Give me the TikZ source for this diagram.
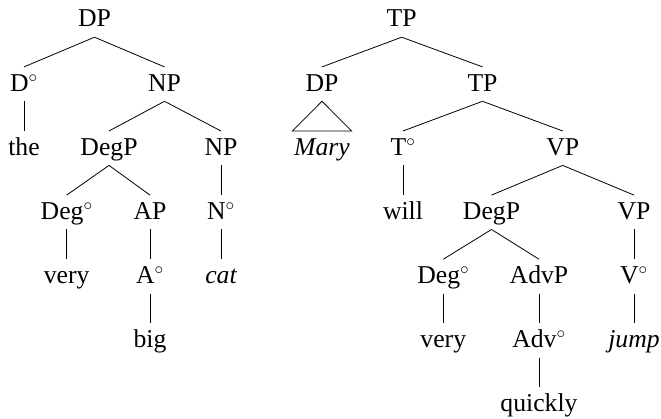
\documentclass[tikz,border=0pt]{standalone}
\usepackage{fontspec}
\setmainfont{Liberation Serif}
\begin{document}
\begin{tikzpicture}[x=1pt,y=-1pt,
  lbl/.style={anchor=base,inner sep=0pt,text height=24pt,text depth=10pt,
    font=\fontsize{25.7}{30}\selectfont},
  branch/.style={line width=0.8pt,black}]
\useasboundingbox (0,0) rectangle (661,419);
\def\rA{27}\def\rB{91.1}\def\rC{155.2}\def\rD{219.3}\def\rE{283.4}\def\rF{347.5}\def\rG{411.6}
% left tree: the very big cat
\node[lbl] (dp1) at (94.5,\rA) {DP};
\node[lbl] (d1) at (24,\rB) {D$^\circ$};
\node[lbl] (np1) at (164.5,\rB) {NP};
\node[lbl] (the) at (24,\rC) {the};
\node[lbl] (degp1) at (109,\rC) {DegP};
\node[lbl] (np2) at (221,\rC) {NP};
\node[lbl] (deg1) at (66.7,\rD) {Deg$^\circ$};
\node[lbl] (ap) at (150,\rD) {AP};
\node[lbl] (n1) at (221,\rD) {N$^\circ$};
\node[lbl] (very1) at (66.7,\rE) {very};
\node[lbl] (a1) at (150,\rE) {A$^\circ$};
\node[lbl] (cat) at (221,\rE) {\itshape cat};
\node[lbl] (big) at (150,\rF) {big};
\draw[branch] (dp1.south) -- (d1.north);
\draw[branch] (dp1.south) -- (np1.north);
\draw[branch] (d1.south) -- (the.north);
\draw[branch] (np1.south) -- (degp1.north);
\draw[branch] (np1.south) -- (np2.north);
\draw[branch] (degp1.south) -- (deg1.north);
\draw[branch] (degp1.south) -- (ap.north);
\draw[branch] (np2.south) -- (n1.north);
\draw[branch] (deg1.south) -- (very1.north);
\draw[branch] (ap.south) -- (a1.north);
\draw[branch] (n1.south) -- (cat.north);
\draw[branch] (a1.south) -- (big.north);
% right tree: Mary will very quickly jump
\node[lbl] (tp1) at (401.7,\rA) {TP};
\node[lbl] (dp2) at (322,\rB) {DP};
\node[lbl] (tp2) at (482.5,\rB) {TP};
\node[lbl] (mary) at (322,\rC) {\itshape Mary};
\node[lbl] (t1) at (403,\rC) {T$^\circ$};
\node[lbl] (vp1) at (562.7,\rC) {VP};
\node[lbl] (will) at (403,\rD) {will};
\node[lbl] (degp2) at (491.5,\rD) {DegP};
\node[lbl] (vp2) at (634,\rD) {VP};
\node[lbl] (deg2) at (443.3,\rE) {Deg$^\circ$};
\node[lbl] (advp) at (539,\rE) {AdvP};
\node[lbl] (v1) at (634,\rE) {V$^\circ$};
\node[lbl] (very2) at (443.3,\rF) {very};
\node[lbl] (adv1) at (539,\rF) {Adv$^\circ$};
\node[lbl] (jump) at (634,\rF) {\itshape jump};
\node[lbl] (quickly) at (539,\rG) {quickly};
\draw[branch] (tp1.south) -- (dp2.north);
\draw[branch] (tp1.south) -- (tp2.north);
\draw[branch] (dp2.south) -- ([xshift=-29.6pt]mary.north) -- ([xshift=29.6pt]mary.north) -- cycle;
\draw[branch] (tp2.south) -- (t1.north);
\draw[branch] (tp2.south) -- (vp1.north);
\draw[branch] (t1.south) -- (will.north);
\draw[branch] (vp1.south) -- (degp2.north);
\draw[branch] (vp1.south) -- (vp2.north);
\draw[branch] (degp2.south) -- (deg2.north);
\draw[branch] (degp2.south) -- (advp.north);
\draw[branch] (vp2.south) -- (v1.north);
\draw[branch] (deg2.south) -- (very2.north);
\draw[branch] (advp.south) -- (adv1.north);
\draw[branch] (v1.south) -- (jump.north);
\draw[branch] (adv1.south) -- (quickly.north);
\end{tikzpicture}
\end{document}
